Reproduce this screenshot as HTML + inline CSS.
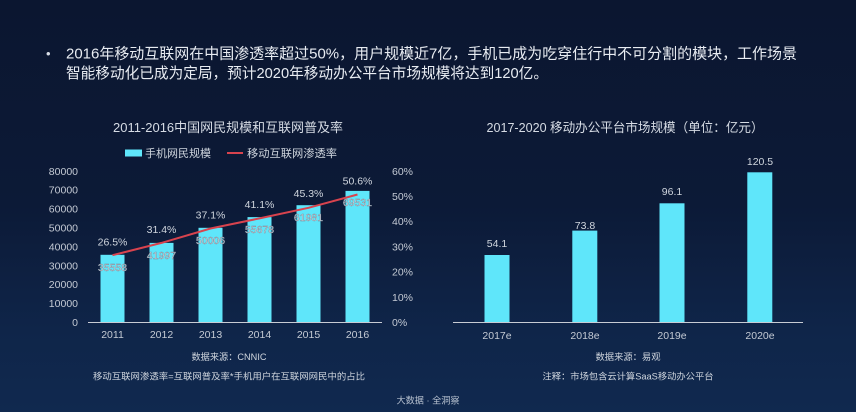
<!DOCTYPE html>
<html><head><meta charset="utf-8"><style>
html,body{margin:0;padding:0;}
body{width:856px;height:412px;overflow:hidden;background:linear-gradient(180deg,#0b1630 0%,#0c1a37 50%,#0f2549 80%,#10294f 100%);font-family:"Liberation Sans","Noto Sans CJK SC",sans-serif;}
svg{position:absolute;left:0;top:0;}
text{font-family:"Liberation Sans","Noto Sans CJK SC",sans-serif;}
</style></head><body>
<svg width="856" height="412" viewBox="0 0 856 412" xmlns="http://www.w3.org/2000/svg">
<!-- header -->
<text x="46" y="58" font-size="13" fill="#d8dde6">•</text>
<text x="66" y="58.5" font-size="15" fill="#e8ecf2" textLength="731" lengthAdjust="spacingAndGlyphs">2016年移动互联网在中国渗透率超过50%，用户规模近7亿，手机已成为吃穿住行中不可分割的模块，工作场景</text>
<text x="66" y="78" font-size="15" fill="#e8ecf2" textLength="482" lengthAdjust="spacingAndGlyphs">智能移动化已成为定局，预计2020年移动办公平台市场规模将达到120亿。</text>

<!-- left chart -->
<text x="228" y="132" font-size="13" fill="#d6dbe4" text-anchor="middle" textLength="230" lengthAdjust="spacingAndGlyphs">2011-2016中国网民规模和互联网普及率</text>
<rect x="125" y="149.5" width="17" height="7" fill="#5fe6fa"/>
<text x="145" y="157" font-size="11" fill="#d0d6de" textLength="66" lengthAdjust="spacingAndGlyphs">手机网民规模</text>
<line x1="227" y1="153" x2="243" y2="153" stroke="#d8434e" stroke-width="2"/>
<text x="247" y="157" font-size="11" fill="#d0d6de" textLength="90" lengthAdjust="spacingAndGlyphs">移动互联网渗透率</text>

<g font-size="10.5" fill="#c4cad4" text-anchor="end">
<text x="78" y="326">0</text>
<text x="78" y="307">10000</text>
<text x="78" y="288.2">20000</text>
<text x="78" y="269.3">30000</text>
<text x="78" y="250.4">40000</text>
<text x="78" y="231.5">50000</text>
<text x="78" y="212.6">60000</text>
<text x="78" y="193.7">70000</text>
<text x="78" y="174.8">80000</text>
</g>
<g font-size="10.5" fill="#c4cad4" text-anchor="start">
<text x="392" y="326">0%</text>
<text x="392" y="300.8">10%</text>
<text x="392" y="275.6">20%</text>
<text x="392" y="250.4">30%</text>
<text x="392" y="225.2">40%</text>
<text x="392" y="200">50%</text>
<text x="392" y="174.8">60%</text>
</g>

<g fill="#5fe6fa">
<rect x="100.5" y="254.8" width="24" height="67.5"/>
<rect x="149.5" y="242.9" width="24" height="79.4"/>
<rect x="198.5" y="227.8" width="24" height="94.5"/>
<rect x="247.5" y="217.1" width="24" height="105.2"/>
<rect x="296.5" y="205.2" width="24" height="117.1"/>
<rect x="345.5" y="190.9" width="24" height="131.4"/>
</g>
<line x1="88" y1="322.5" x2="382" y2="322.5" stroke="#c8ccd4" stroke-width="1"/>
<polyline points="112.5,255.2 161.5,242.9 210.5,228.5 259.5,218.4 308.5,207.8 357.5,194.5" fill="none" stroke="#d8434e" stroke-width="2"/>

<g font-size="10.5" fill="#e4e9f0" stroke="#7c8896" stroke-width="0.4" text-anchor="middle">
<text x="112.5" y="271">35558</text>
<text x="161.5" y="259">41997</text>
<text x="210.5" y="244">50006</text>
<text x="259.5" y="233">55678</text>
<text x="308.5" y="221">61981</text>
<text x="357.5" y="206">69531</text>
</g>
<g font-size="10.5" fill="#d0d6de" text-anchor="middle">
<text x="112.5" y="245.5">26.5%</text>
<text x="161.5" y="233">31.4%</text>
<text x="210.5" y="218.5">37.1%</text>
<text x="259.5" y="208">41.1%</text>
<text x="308.5" y="197">45.3%</text>
<text x="357.5" y="184.5">50.6%</text>
</g>
<g font-size="10.5" fill="#c4cad4" text-anchor="middle">
<text x="112.5" y="338">2011</text>
<text x="161.5" y="338">2012</text>
<text x="210.5" y="338">2013</text>
<text x="259.5" y="338">2014</text>
<text x="308.5" y="338">2015</text>
<text x="357.5" y="338">2016</text>
</g>
<text x="229" y="360" font-size="9" fill="#d0d6de" text-anchor="middle" textLength="75" lengthAdjust="spacingAndGlyphs">数据来源：CNNIC</text>
<text x="229" y="379.5" font-size="9" fill="#d0d6de" text-anchor="middle" textLength="272" lengthAdjust="spacingAndGlyphs">移动互联网渗透率=互联网普及率*手机用户在互联网网民中的占比</text>

<!-- right chart -->
<text x="625" y="132" font-size="13" fill="#d6dbe4" text-anchor="middle" textLength="277" lengthAdjust="spacingAndGlyphs">2017-2020 移动办公平台市场规模（单位：亿元）</text>
<g fill="#5fe6fa">
<rect x="484.5" y="255" width="25" height="67.3"/>
<rect x="572.3" y="230.6" width="25" height="91.7"/>
<rect x="659.5" y="203.3" width="25" height="119"/>
<rect x="747.3" y="172.3" width="25" height="150"/>
</g>
<line x1="453" y1="322.5" x2="803" y2="322.5" stroke="#c8ccd4" stroke-width="1"/>
<g font-size="10.5" fill="#d0d6de" text-anchor="middle">
<text x="497" y="247">54.1</text>
<text x="585" y="229">73.8</text>
<text x="672" y="195">96.1</text>
<text x="760" y="165">120.5</text>
</g>
<g font-size="10.5" fill="#c4cad4" text-anchor="middle">
<text x="497" y="339">2017e</text>
<text x="585" y="339">2018e</text>
<text x="672" y="339">2019e</text>
<text x="760" y="339">2020e</text>
</g>
<text x="628" y="360" font-size="9" fill="#d0d6de" text-anchor="middle" textLength="65" lengthAdjust="spacingAndGlyphs">数据来源：易观</text>
<text x="628" y="379.5" font-size="9" fill="#d0d6de" text-anchor="middle" textLength="171" lengthAdjust="spacingAndGlyphs">注释：市场包含云计算SaaS移动办公平台</text>

<text x="428" y="403.5" font-size="9" fill="#b8c2d0" text-anchor="middle" textLength="63" lengthAdjust="spacingAndGlyphs">大数据 · 全洞察</text>
</svg>
</body></html>
